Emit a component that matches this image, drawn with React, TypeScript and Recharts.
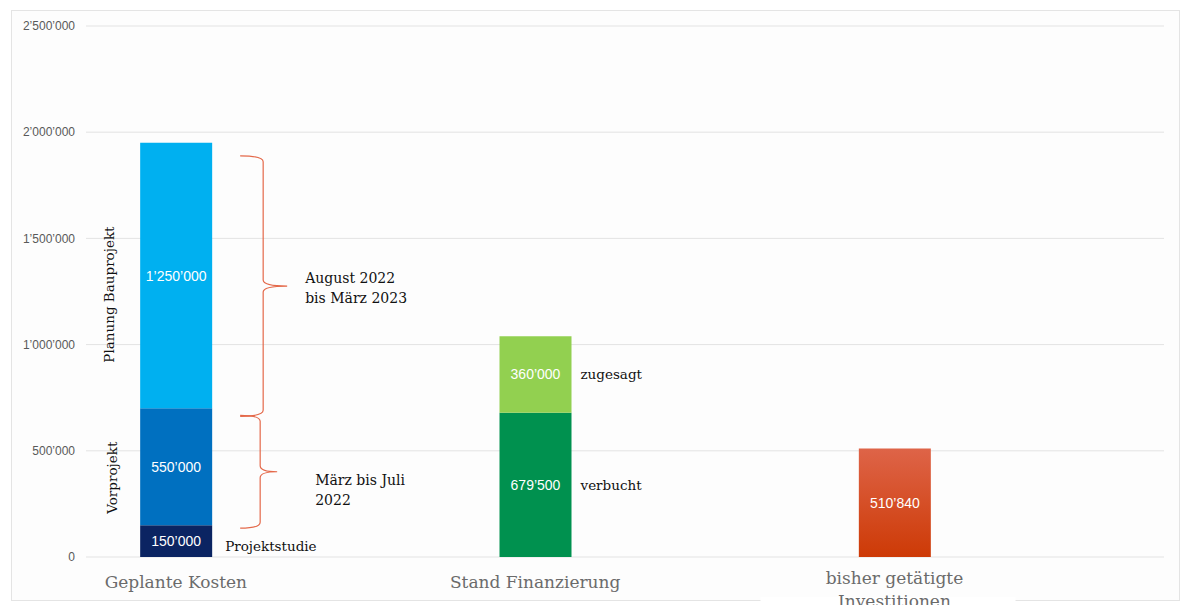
import React from 'react';
import {
  BarChart,
  Bar,
  XAxis,
  YAxis,
  CartesianGrid,
  LabelList
} from 'recharts';

// Kategorien und Werte (CHF)
const categories = ['Geplante Kosten', 'Stand Finanzierung', 'bisher getätigte Investitionen'];
const projektstudie = [150000, 0, 0];
const vorprojekt = [550000, 0, 0];
const bauprojekt = [1250000, 0, 0];
const verbucht = [0, 679500, 0];
const zugesagt = [0, 360000, 0];
const investitionen = [0, 0, 510840];
const yTicks = [0, 500000, 1000000, 1500000, 2000000, 2500000];

// Beschriftungen neben den Balken
const phaseNames = { studie: 'Projektstudie', vor: 'Vorprojekt', bau: 'Planung Bauprojekt' };
const fundingNames = { verbucht: 'verbucht', zugesagt: 'zugesagt' };
const periodBau = ['August 2022', 'bis März 2023'];
const periodVor = ['März bis Juli', '2022'];

const data = categories.map((name, i) => ({
  pos: i,
  name,
  projektstudie: projektstudie[i],
  vorprojekt: vorprojekt[i],
  bauprojekt: bauprojekt[i],
  verbucht: verbucht[i],
  zugesagt: zugesagt[i],
  investitionen: investitionen[i]
}));

const fmt = (v: number) => String(v).replace(/\B(?=(\d{3})+(?!\d))/g, '’');

const SANS = 'Liberation Sans, Arial, Helvetica, sans-serif';
const SERIF = 'DejaVu Serif, serif';
const BRACE = '#e4694a';

const box = (p: any) => {
  const vb = p.viewBox || {};
  return {
    x: vb.x ?? p.x,
    y: vb.y ?? p.y,
    w: vb.width ?? p.width,
    h: vb.height ?? p.height,
    value: p.value
  };
};

const valueLabel = (p: any) => {
  const { x, y, w, h, value } = box(p);
  if (!value) return null;
  return (
    <text x={x + w / 2} y={y + h / 2} dy={5} textAnchor="middle" fill="#fff" fontSize={14} fontFamily={SANS}>
      {fmt(value)}
    </text>
  );
};

const sideNote = (text: string, dx: number, dy: number) => (p: any) => {
  const { x, y, w, h, value } = box(p);
  if (!value) return null;
  return (
    <text x={x + w + dx} y={y + h / 2 + dy} fill="#111" fontSize={13.5} fontFamily={SERIF}>
      {text}
    </text>
  );
};

const rotatedNote = (text: string, dx: number, dy: number) => (p: any) => {
  const { x, y, h, value } = box(p);
  if (!value) return null;
  const tx = x + dx;
  const ty = y + h / 2 + dy;
  return (
    <text x={tx} y={ty} transform={`rotate(-90 ${tx} ${ty})`} textAnchor="middle" fill="#111" fontSize={13.5} fontFamily={SERIF}>
      {text}
    </text>
  );
};

const bracePath = (L: number, V: number, P: number, T: number, B: number) => {
  const M = (T + B) / 2;
  const r = 6;
  return `M${L},${T} Q${V},${T} ${V},${T + r} L${V},${M - r} Q${V},${M} ${P},${M} Q${V},${M} ${V},${M + r} L${V},${B - r} Q${V},${B} ${L},${B}`;
};

const brace = (lines: string[], o: { top: number; bottom: number; l: number; v: number; p: number; tx: number; ty: number }) => (props: any) => {
  const { x, y, w, h, value } = box(props);
  if (!value) return null;
  const right = x + w;
  const T = y + o.top;
  const B = y + h + o.bottom;
  const M = (T + B) / 2;
  return (
    <g>
      <path d={bracePath(right + o.l, right + o.v, right + o.p, T, B)} fill="none" stroke={BRACE} strokeWidth={1.2} />
      {lines.map((t, i) => (
        <text key={t} x={right + o.tx} y={M + o.ty + i * 20} fill="#111" fontSize={14} fontFamily={SERIF}>
          {t}
        </text>
      ))}
    </g>
  );
};

const CategoryTick = (props: any) => {
  const { x, y, payload } = props;
  const label = categories[payload.value] ?? '';
  const words = label.split(' ');
  const lines = words.length > 2 ? [words.slice(0, 2).join(' '), words.slice(2).join(' ')] : [label];
  const y0 = lines.length > 1 ? 19 : 23;
  return (
    <g>
      {lines.length > 1 && <rect x={x - 134} y={y + 32} width={255} height={12} fill="#fff" />}
      {lines.map((t, i) => (
        <text key={t} x={x} y={y + y0 + i * 23} textAnchor="middle" fill="#6b6b6b" fontSize={17} fontFamily={SERIF}>
          {t}
        </text>
      ))}
    </g>
  );
};

const App: React.FC = () => {
  return (
    <div style={{ position: 'absolute', left: 0, top: 0, width: 1183, height: 605, background: '#fff', overflow: 'hidden' }}>
      <div
        style={{
          position: 'absolute',
          left: 11,
          top: 10,
          width: 1169,
          height: 591,
          boxSizing: 'border-box',
          border: '1px solid #e4e4e4',
          background: '#fdfdfd'
        }}
      />
      <div style={{ position: 'absolute', left: 0, top: 0 }}>
        <BarChart width={1183} height={605} data={data} margin={{ top: 26, right: 19, bottom: 0, left: 0 }}>
          <defs>
            <linearGradient id="redGrad" x1="0" y1="0" x2="0" y2="1">
              <stop offset="0%" stopColor="#de6448" />
              <stop offset="100%" stopColor="#cd3a06" />
            </linearGradient>
          </defs>
          <CartesianGrid vertical={false} stroke="#e3e3e3" />
          <XAxis
            dataKey="pos"
            type="number"
            domain={[-0.25, 2.75]}
            ticks={[0, 1, 2]}
            axisLine={false}
            tickLine={false}
            height={48}
            interval={0}
            tick={<CategoryTick />}
          />
          <YAxis
            domain={[0, 2500000]}
            ticks={yTicks}
            axisLine={false}
            tickLine={false}
            width={86}
            tickMargin={5}
            tickFormatter={fmt}
            tick={{ fontSize: 12, fill: '#595959', fontFamily: SANS }}
          />
          <Bar dataKey="projektstudie" stackId="a" fill="#0b2462" barSize={72} isAnimationActive={false}>
            <LabelList dataKey="projektstudie" content={valueLabel} />
            <LabelList dataKey="projektstudie" content={sideNote(phaseNames.studie, 13, 10)} />
          </Bar>
          <Bar dataKey="vorprojekt" stackId="a" fill="#0070c0" barSize={72} isAnimationActive={false}>
            <LabelList dataKey="vorprojekt" content={valueLabel} />
            <LabelList dataKey="vorprojekt" content={rotatedNote(phaseNames.vor, -23, 11)} />
            <LabelList
              dataKey="vorprojekt"
              content={brace(periodVor, { top: 7, bottom: 3, l: 28, v: 48, p: 65, tx: 103, ty: 13 })}
            />
          </Bar>
          <Bar dataKey="bauprojekt" stackId="a" fill="#00b0f0" barSize={72} isAnimationActive={false}>
            <LabelList dataKey="bauprojekt" content={valueLabel} />
            <LabelList dataKey="bauprojekt" content={rotatedNote(phaseNames.bau, -26, 19)} />
            <LabelList
              dataKey="bauprojekt"
              content={brace(periodBau, { top: 13, bottom: 8, l: 28, v: 51, p: 75, tx: 93, ty: -3 })}
            />
          </Bar>
          <Bar dataKey="verbucht" stackId="a" fill="#00914f" barSize={72} isAnimationActive={false}>
            <LabelList dataKey="verbucht" content={valueLabel} />
            <LabelList dataKey="verbucht" content={sideNote(fundingNames.verbucht, 9, 5)} />
          </Bar>
          <Bar dataKey="zugesagt" stackId="a" fill="#92d050" barSize={72} isAnimationActive={false}>
            <LabelList dataKey="zugesagt" content={valueLabel} />
            <LabelList dataKey="zugesagt" content={sideNote(fundingNames.zugesagt, 9, 5)} />
          </Bar>
          <Bar dataKey="investitionen" stackId="a" fill="url(#redGrad)" barSize={72} isAnimationActive={false}>
            <LabelList dataKey="investitionen" content={valueLabel} />
          </Bar>
        </BarChart>
      </div>
    </div>
  );
};

export default App;
